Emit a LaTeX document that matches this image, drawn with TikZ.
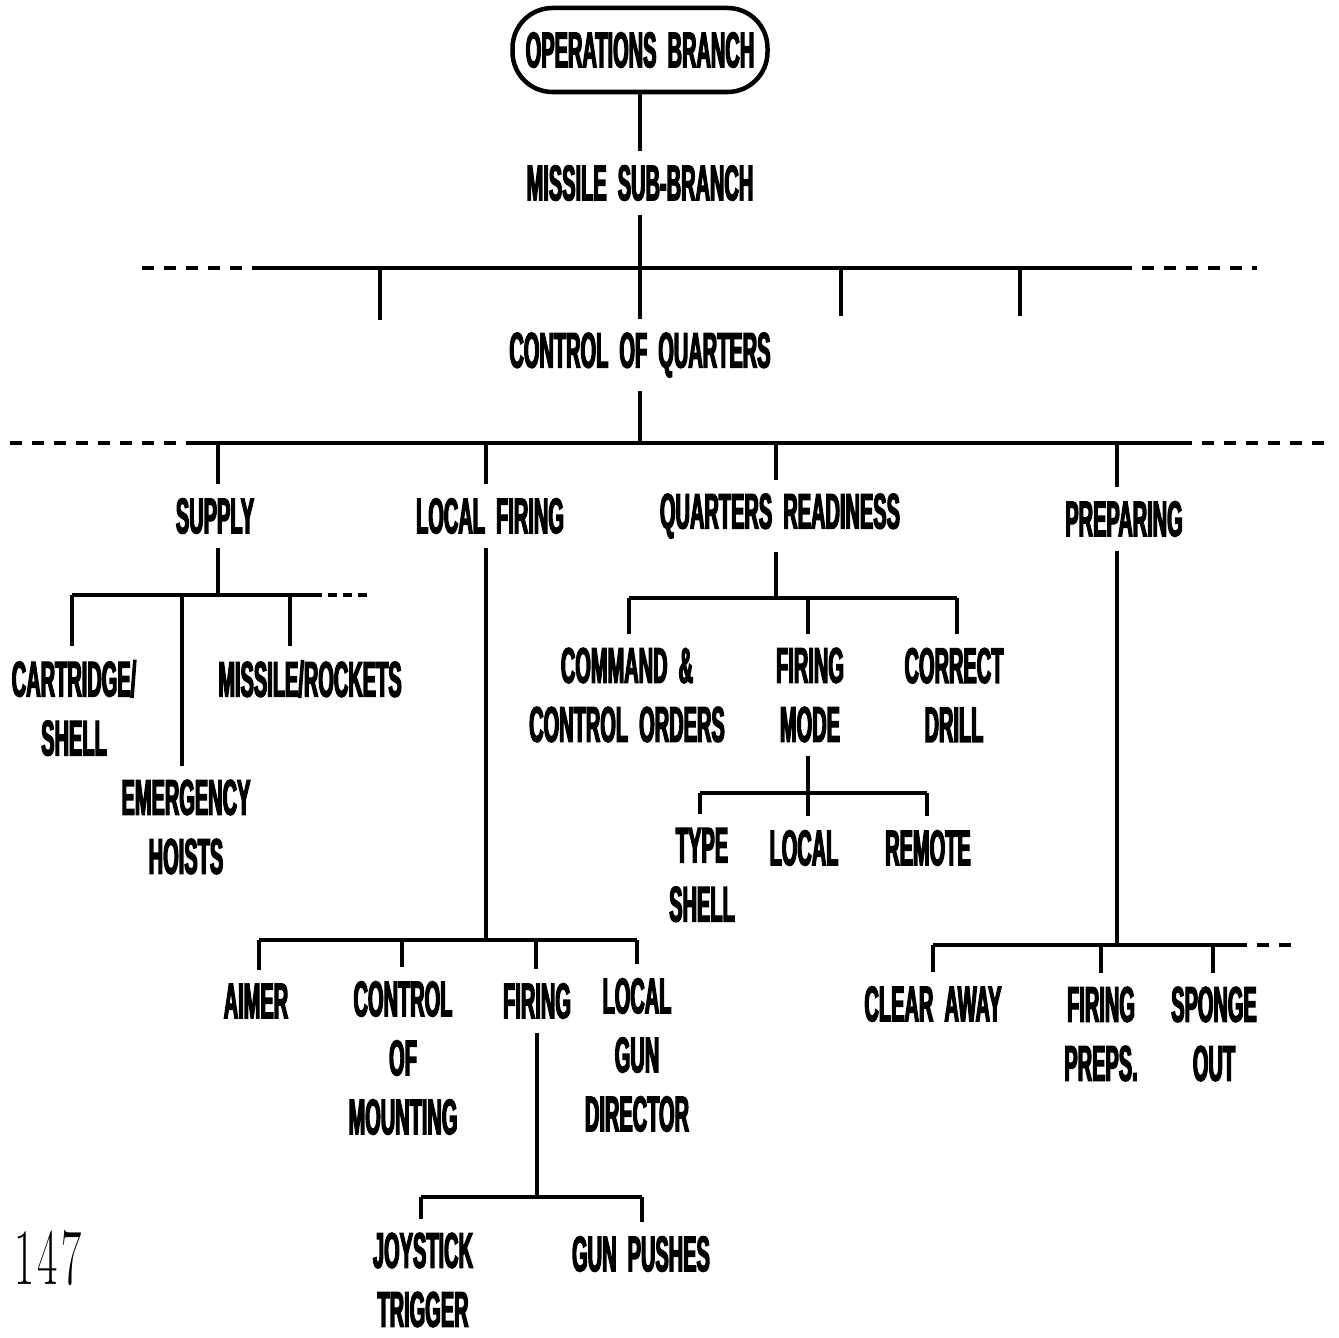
\documentclass[tikz,border=0pt]{standalone}
\usepackage{fontspec}
\usepackage{graphicx}
\newfontfamily\labelfam{Liberation Sans}[FakeStretch=0.4,WordSpace=2,BoldFeatures={FakeBold=2.5}]
\tikzset{
 lbl/.style={font=\labelfam\bfseries\fontsize{50}{59}\selectfont, align=center, inner sep=0pt, outer sep=14pt},
 ln/.style={line width=4.5pt},
 dsh/.style={line width=4.5pt, dash pattern=on 12pt off 10pt}
}
\begin{document}
\begin{tikzpicture}[x=1pt,y=-1pt]
\useasboundingbox (0,0) rectangle (1339,1338);
% top box
\node[lbl, draw, line width=4.5pt, rounded corners=40pt, minimum width=255pt, minimum height=84pt, outer sep=0pt] (ob) at (640,50) {OPERATIONS BRANCH};
\node[lbl] (msb) at (640,183) {MISSILE SUB-BRANCH};
\node[lbl] (cq) at (640,355) {CONTROL OF QUARTERS};
\draw[ln] (ob.south -| msb) -- (msb);
% bar 1
\coordinate (b1L) at (142,268); \coordinate (b1a) at (262,268);
\coordinate (b1b) at (1120,268); \coordinate (b1R) at (1257,268);
\draw[ln] (b1a) -- (b1b);
\draw[dsh] (b1L) -- (b1a);
\draw[dsh] (b1b) -- (b1R);
\draw[ln] (msb) -- (cq);
\coordinate (e1) at (380,320); \coordinate (e2) at (841,316); \coordinate (e3) at (1020,316);
\draw[ln] (e1 |- b1a) -- (e1);
\draw[ln] (e2 |- b1a) -- (e2);
\draw[ln] (e3 |- b1a) -- (e3);
% bar 2
\coordinate (b2L) at (10,443); \coordinate (b2a) at (190,443);
\coordinate (b2b) at (1180,443); \coordinate (b2R) at (1330,443);
\draw[ln] (b2a) -- (b2b);
\draw[dsh] (b2L) -- (b2a);
\draw[dsh] (b2b) -- (b2R);
\draw[ln] (cq) -- (cq |- b2a);
% level 3
\node[lbl] (sup) at (215,516) {SUPPLY};
\node[lbl] (lf) at (490,516) {LOCAL FIRING};
\node[lbl] (qr) at (780,516) {QUARTERS READINESS};
\node[lbl] (prep) at (1124,519) {PREPARING};
\coordinate (d-sup) at (218,443); \coordinate (d-lf) at (486,443);
\coordinate (d-qr) at (776,443); \coordinate (d-prep) at (1117,443);
\draw[ln] (d-sup) -- (d-sup |- sup.north);
\draw[ln] (d-lf) -- (d-lf |- lf.north);
\draw[ln] (d-qr) -- (d-qr |- qr.north);
\draw[ln] (d-prep) -- (d-prep |- prep.north);
% SUPPLY subtree
\coordinate (c-sup) at (218,595);
\draw[ln] (c-sup |- sup.south) -- (c-sup);
\node[lbl] (cart) at (74,708) {CARTRIDGE/\\SHELL};
\node[lbl] (emer) at (186,827) {EMERGENCY\\HOISTS};
\node[lbl] (mr) at (310,679) {MISSILE/ROCKETS};
\coordinate (s1) at (72,595); \coordinate (s2) at (182,595); \coordinate (s3) at (290,595);
\coordinate (s4) at (313,595); \coordinate (s5) at (370,595);
\draw[ln] (s1) -- (s4);
\draw[dsh, dash pattern=on 9pt off 6pt] (s4) -- (s5);
\draw[ln] (s1) -- (s1 |- cart.north);
\draw[ln] (s2) -- (s2 |- emer.north);
\draw[ln] (s3) -- (s3 |- mr.north);
% LOCAL FIRING subtree
\coordinate (c-lf) at (486,940);
\draw[ln] (c-lf |- lf.south) -- (c-lf);
\node[lbl] (aim) at (256,1001) {AIMER};
\node[lbl] (com) at (403,1058) {CONTROL\\OF\\MOUNTING};
\node[lbl] (fir) at (537,1001) {FIRING};
\node[lbl] (lgd) at (637,1055) {LOCAL\\GUN\\DIRECTOR};
\coordinate (l1) at (259,940); \coordinate (l2) at (402,940);
\coordinate (l3) at (536,940); \coordinate (l4) at (637,940);
\draw[ln] (l1) -- (l4);
\draw[ln] (l1) -- (l1 |- aim.north);
\draw[ln] (l2) -- (l2 |- com.north);
\draw[ln] (l3) -- (l3 |- fir.north);
\draw[ln] (l4) -- (l4 |- lgd.north);
% FIRING subtree
\coordinate (c-fir) at (537,1197);
\draw[ln] (c-fir |- fir.south) -- (c-fir);
\node[lbl] (joy) at (423,1280) {JOYSTICK\\TRIGGER};
\node[lbl] (gp) at (641,1254) {GUN PUSHES};
\coordinate (f1) at (421,1197); \coordinate (f2) at (642,1197);
\draw[ln] (f1) -- (f2);
\draw[ln] (f1) -- (f1 |- joy.north);
\draw[ln] (f2) -- (f2 |- gp.north);
% QUARTERS READINESS subtree
\coordinate (c-qr) at (776,598);
\draw[ln] (c-qr |- qr.south) -- (c-qr);
\node[lbl] (cc) at (627,695) {COMMAND \&\\CONTROL ORDERS};
\node[lbl] (fm) at (810,695) {FIRING\\MODE};
\node[lbl] (cd) at (954,695) {CORRECT\\DRILL};
\coordinate (q1) at (629,598); \coordinate (q2) at (808,598); \coordinate (q3) at (957,598);
\draw[ln] (q1) -- (q3);
\draw[ln] (q1) -- (q1 |- cc.north);
\draw[ln] (q2) -- (q2 |- fm.north);
\draw[ln] (q3) -- (q3 |- cd.north);
% FIRING MODE subtree
\coordinate (c-fm) at (808,793);
\draw[ln] (c-fm |- fm.south) -- (c-fm);
\node[lbl] (ts) at (702,875) {TYPE\\SHELL};
\node[lbl] (loc) at (804,848) {LOCAL};
\node[lbl] (rem) at (928,848) {REMOTE};
\coordinate (m1) at (700,793); \coordinate (m2) at (808,793); \coordinate (m3) at (927,793);
\draw[ln] (m1) -- (m3);
\draw[ln] (m1) -- (m1 |- ts.north);
\draw[ln] (m2) -- (m2 |- loc.north);
\draw[ln] (m3) -- (m3 |- rem.north);
% PREPARING subtree
\coordinate (c-prep) at (1117,945);
\draw[ln] (c-prep |- prep.south) -- (c-prep);
\node[lbl] (ca) at (933,1004) {CLEAR AWAY};
\node[lbl] (fp) at (1101,1034) {FIRING\\PREPS.};
\node[lbl] (so) at (1214,1034) {SPONGE\\OUT};
\coordinate (p1) at (933,945); \coordinate (p2) at (1101,945); \coordinate (p3) at (1213,945);
\coordinate (p4) at (1235,945); \coordinate (p5) at (1297,945);
\draw[ln] (p1) -- (p4);
\draw[dsh] (p4) -- (p5);
\draw[ln] (p1) -- (p1 |- ca.north);
\draw[ln] (p2) -- (p2 |- fp.north);
\draw[ln] (p3) -- (p3 |- so.north);
% page number
\node[font=\fontsize{80}{80}\selectfont, inner sep=0pt] (pg) at (48,1258) {\scalebox{0.55}[1]{1\kern6pt4\kern6pt7}};
\end{tikzpicture}
\end{document}
